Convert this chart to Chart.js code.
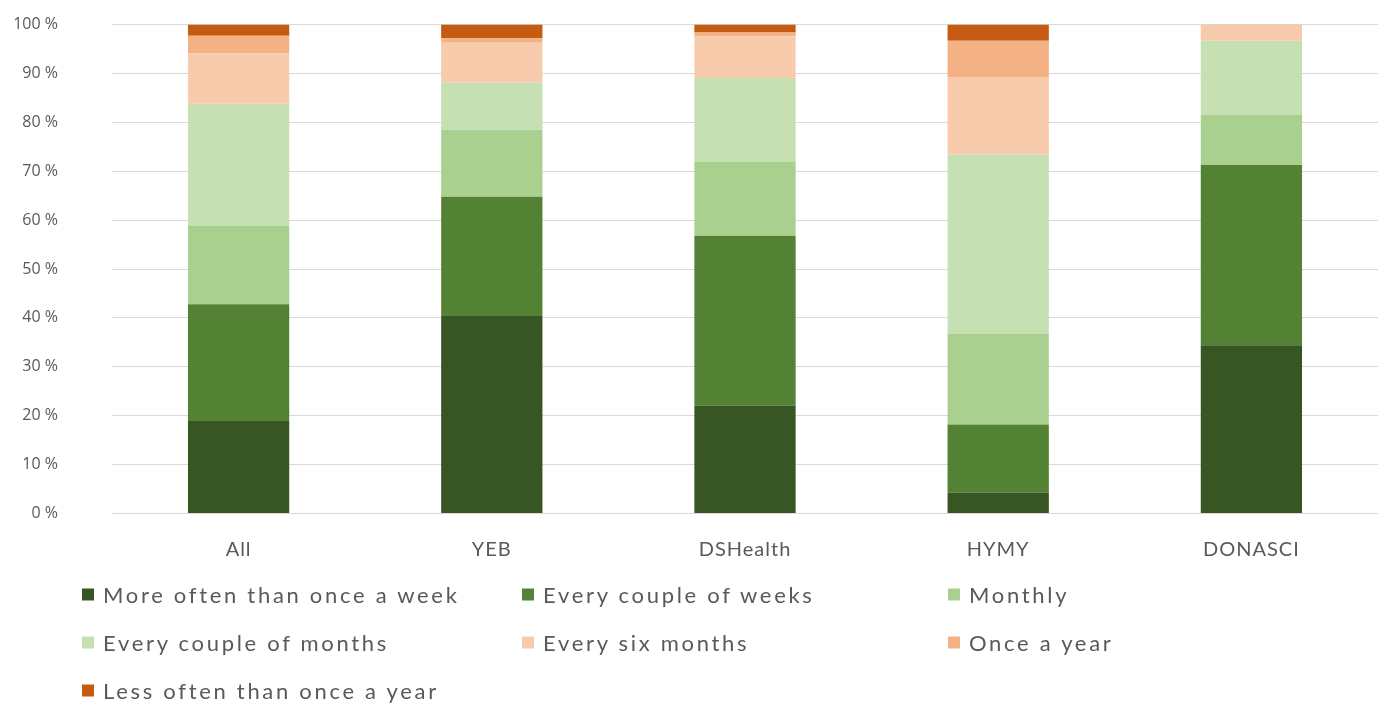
<!DOCTYPE html>
<html>
<head>
<meta charset="utf-8">
<script src="https://cdn.jsdelivr.net/npm/chart.js@4.4.1/dist/chart.umd.min.js"></script>
<style>
  html, body { margin: 0; padding: 0; background: #fff; }
  #wrap { position: relative; width: 1383px; height: 708px; overflow: hidden; }
  #chart { position: absolute; left: 0; top: -39px; }
  #legend { position: absolute; left: 0; top: 0; width: 1383px; height: 708px; pointer-events: none; }
  .item { position: absolute; display: flex; align-items: center; font-family: Lato, sans-serif;
          font-size: 22px; letter-spacing: 2.7px; color: #595959; white-space: nowrap; transform: translateY(-50%); }
  .swatch { width: 12px; height: 12px; margin-right: 9px; }
</style>
</head>
<body>
<div id="wrap">
  <canvas id="chart" width="1383" height="616"></canvas>
  <div id="legend"></div>
</div>
<script>
const CATEGORIES = ["All", "YEB", "DSHealth", "HYMY", "DONASCI"];

const SERIES_NAMES = [
  "More often than once a week",
  "Every couple of weeks",
  "Monthly",
  "Every couple of months",
  "Every six months",
  "Once a year",
  "Less often than once a year",
];

const SERIES_COLORS = [
  "#375623",
  "#548235",
  "#a9d08e",
  "#c6e0b4",
  "#f8cbad",
  "#f4b183",
  "#c55a11",
];

// percent per category, order: All, YEB, DSHealth, HYMY, DONASCI
const moreOftenWeek = [18.9, 40.4, 22.1, 4.3, 34.4];
const coupleWeeks = [23.9, 24.4, 34.7, 13.9, 36.9];
const monthly = [16.0, 13.7, 15.1, 18.5, 10.3];
const coupleMonths = [25.0, 9.6, 17.2, 36.7, 15.1];
const sixMonths = [10.3, 8.2, 8.5, 15.9, 3.3];
const onceYear = [3.6, 0.9, 0.8, 7.4, 0];
const lessOftenYear = [2.3, 2.8, 1.6, 3.3, 0];

const SERIES_VALUES = [moreOftenWeek, coupleWeeks, monthly, coupleMonths, sixMonths, onceYear, lessOftenYear];

const Y_TICKS = [0, 10, 20, 30, 40, 50, 60, 70, 80, 90, 100];

const TEXT_COLOR = "#595959";

const datasets = SERIES_NAMES.map((name, i) => ({
  label: name,
  data: SERIES_VALUES[i],
  backgroundColor: SERIES_COLORS[i],
  borderWidth: 0,
  barPercentage: 0.4,
  categoryPercentage: 1.0,
}));

// slightly wider spacing on the category labels only
function spaceOutLabels(scale) {
  if (scale._spaced) return;
  scale._spaced = true;
  const orig = scale.drawLabels;
  scale.drawLabels = function (area) {
    const ctx = this.ctx;
    ctx.save();
    ctx.letterSpacing = "1px";
    orig.call(this, area);
    ctx.restore();
  };
}

const chart = new Chart(document.getElementById("chart"), {
  type: "bar",
  data: { labels: CATEGORIES, datasets },
  options: {
    responsive: false,
    animation: false,
    layout: { padding: { top: 25, right: 5, left: 0, bottom: 0 } },
    plugins: {
      legend: { display: false },
      tooltip: { enabled: false },
    },
    scales: {
      x: {
        stacked: true,
        grid: { display: false, drawTicks: false },
        border: { display: false },
        ticks: { color: TEXT_COLOR, font: { family: "Lato, sans-serif", size: 20 }, padding: 24 },
        afterFit: (s) => { s.height = 57; },
        afterUpdate: spaceOutLabels,
      },
      y: {
        stacked: true,
        min: 0,
        max: 100,
        afterBuildTicks: (s) => { s.ticks = Y_TICKS.map((v) => ({ value: v })); },
        grid: { color: "#d9d9d9", lineWidth: 1, drawTicks: false },
        border: { display: false },
        ticks: {
          color: TEXT_COLOR,
          font: { family: "'Open Sans', sans-serif", size: 16 },
          padding: 54,
          callback: (v) => v + " %",
        },
        afterFit: (s) => { s.width = 112; },
      },
    },
  },
});
chart.draw();

// legend in three columns, built from the chart's datasets
const LEGEND_COLS = [82, 522, 948];
const LEGEND_ROWS = [594, 642, 690];
const legendEl = document.getElementById("legend");
chart.data.datasets.forEach((ds, i) => {
  const item = document.createElement("div");
  item.className = "item";
  item.style.left = LEGEND_COLS[i % 3] + "px";
  item.style.top = LEGEND_ROWS[Math.floor(i / 3)] + "px";
  const sw = document.createElement("span");
  sw.className = "swatch";
  sw.style.background = ds.backgroundColor;
  const txt = document.createElement("span");
  txt.textContent = ds.label;
  item.appendChild(sw);
  item.appendChild(txt);
  legendEl.appendChild(item);
});
</script>
</body>
</html>
